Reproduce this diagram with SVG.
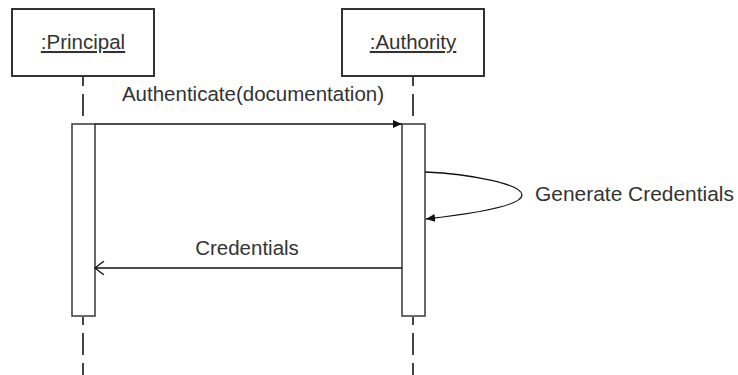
<svg xmlns="http://www.w3.org/2000/svg" width="738" height="375" viewBox="0 0 738 375">
<style>
.box{fill:#fff;stroke:#333;stroke-width:2}
.life{stroke:#444;stroke-width:2;stroke-dasharray:22,8;stroke-dashoffset:12;fill:none}
.act{fill:#fff;stroke:#444;stroke-width:1.6}
.msg{stroke:#111;stroke-width:1.3;fill:none}
text{font-family:"Liberation Sans",Arial,sans-serif;font-size:20.5px;fill:#333}
.u{text-decoration:underline}
</style>
<defs>
<marker id="filled" markerWidth="10" markerHeight="10" refX="9" refY="5" orient="auto" markerUnits="userSpaceOnUse">
<path d="M0,1 L9,5 L0,9 Z" fill="#111"/>
</marker>
<marker id="open" markerWidth="12" markerHeight="14" refX="10" refY="7" orient="auto" markerUnits="userSpaceOnUse">
<path d="M1,0 L10,7 L1,14" fill="none" stroke="#111" stroke-width="1.3"/>
</marker>
</defs>
<g id="principal">
<line class="life" x1="83" y1="76" x2="83" y2="124"/>
<line class="life" x1="83" y1="317" x2="83" y2="375" style="stroke-dashoffset:14"/>
<rect class="box" x="12" y="9" width="142" height="67"/>
<text class="u" x="83" y="49" text-anchor="middle">:Principal</text>
<rect class="act" x="72" y="124" width="23" height="192"/>
</g>
<g id="authority">
<line class="life" x1="413" y1="76" x2="413" y2="124"/>
<line class="life" x1="413" y1="317" x2="413" y2="375" style="stroke-dashoffset:14"/>
<rect class="box" x="342" y="9" width="142" height="67"/>
<text class="u" x="413" y="49" text-anchor="middle">:Authority</text>
<rect class="act" x="402" y="124" width="23" height="192"/>
</g>
<g id="connectors">
<line class="msg" x1="95" y1="124" x2="402" y2="124" marker-end="url(#filled)"/>
<text x="253" y="101" text-anchor="middle">Authenticate(documentation)</text>
<path class="msg" d="M425,172 C470,174 522,184 522,195 C522,206 470,214 426,219" marker-end="url(#filled)"/>
<text x="535" y="201" textLength="199" lengthAdjust="spacingAndGlyphs">Generate Credentials</text>
<line class="msg" x1="402" y1="268" x2="95" y2="268" marker-end="url(#open)"/>
<text x="247" y="255" text-anchor="middle">Credentials</text>
</g>
</svg>
